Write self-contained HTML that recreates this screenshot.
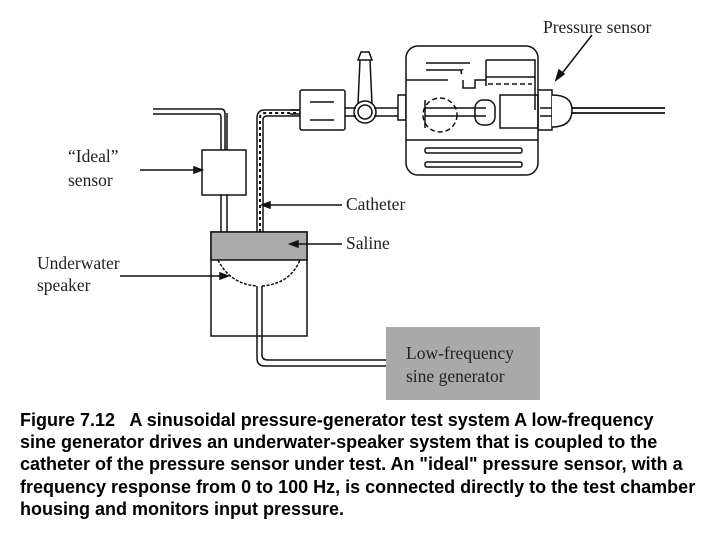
<!DOCTYPE html>
<html><head><style>
body{margin:0;width:720px;height:540px;background:#fff;position:relative;overflow:hidden}
.cap{position:absolute;left:20px;top:409px;width:700px;font:bold 18px/22.2px "Liberation Sans",sans-serif;color:#000;white-space:nowrap}
svg text{font-family:"Liberation Serif",serif;font-size:17.5px;fill:#222;stroke:none}
</style></head><body>
<svg width="720" height="405" style="position:absolute;left:0;top:0" stroke="#111" fill="none" stroke-width="1.5">
<path d="M153 109 H221 Q225 109 225 114 V150 M153 114 H219 Q221 114 221 118 V150"/>
<path d="M221 195 V232 M227 195 V232"/>
<path d="M227 113 V150"/>
<rect x="202" y="150" width="44" height="45" fill="#fff"/>
<path d="M257 232 V118 Q257 110 265 110 H300 M263 232 V120 Q263 116 267 116 H300"/>
<path d="M260 232 V118 Q260 113 266 113 H300" stroke-dasharray="3 3" stroke-width="2"/>
<rect x="211" y="232" width="96" height="104" fill="#fff"/>
<rect x="211" y="232" width="96" height="28" fill="#aaa"/>
<path d="M218 260 Q230 284 257 286 M262 286 Q290 284 300 260" stroke-dasharray="3 1.5"/>
<path d="M257 286 V358 Q257 366 265 366 H386 M262 286 V355 Q262 360 268 360 H386"/>
<rect x="386" y="327" width="154" height="73" fill="#a9a9a9" stroke="none"/>
<path d="M140 170 H198 M120 276 H224 M266 205 H342 M296 244 H342"/>
<path d="M202 170 l-8 -3 v6z M228 276 l-8 -3 v6z M262 205 l8 -3 v6z M290 244 l8 -3 v6z" fill="#111"/>
<path d="M290 110 H300 M290 114 H300"/>
<rect x="300" y="90" width="45" height="40" rx="2" fill="#fff"/>
<path d="M310 102 H334 M310 120 H334"/>
<path d="M345 108 H356 M345 116 H356 M374 108 H398 M374 116 H398"/>
<circle cx="365" cy="112" r="11"/><circle cx="365" cy="112" r="7"/>
<path d="M358 104 L360 60 M372 104 L370 60 M358 60 H372 L369 52 H361Z"/>
<rect x="398" y="95" width="8" height="25"/>
<rect x="406" y="46" width="132" height="129" rx="12" fill="#fff"/>
<path d="M406 140 H538"/>
<rect x="425" y="148" width="97" height="5" rx="2"/><rect x="425" y="162" width="97" height="5" rx="2"/>
<path d="M426 63 H470 M426 70 H462 Q460 72 462 74 M406 80 H448 M463 80 V88 H475 V80 H486 M486 60 V86 M486 60 H535 V110 M486 77 H535"/>
<path d="M488 84 H532" stroke-dasharray="5 3"/>
<circle cx="440" cy="115" r="17" stroke-dasharray="5 3"/>
<path d="M425 100 V128 M425 108 H486 M425 116 H486"/>
<rect x="475" y="100" width="20" height="25" rx="8"/>
<rect x="500" y="95" width="38" height="33"/>
<path d="M538 90 H552 V130 H538 M540 108 H555 M540 116 H555"/>
<path d="M552 95 Q572 95 572 110 Q572 127 552 127" fill="#fff"/>
<path d="M572 108 H665 M572 113 H665" stroke-width="1.8"/>
<path d="M592 35 L560 76"/><path d="M556 80 l3 -10 5 4z" fill="#111"/>
<text x="543" y="33" font-size="17">Pressure sensor</text>
<text x="68" y="162">“Ideal”</text>
<text x="68" y="186">sensor</text>
<text x="346" y="210">Catheter</text>
<text x="346" y="249">Saline</text>
<text x="37" y="269">Underwater</text>
<text x="37" y="291">speaker</text>
<text x="406" y="359">Low-frequency</text>
<text x="406" y="382">sine generator</text>
</svg>
<div class="cap">Figure 7.12 &nbsp; A sinusoidal pressure-generator test system A low-frequency<br>sine generator drives an underwater-speaker system that is coupled to the<br>catheter of the pressure sensor under test. An "ideal" pressure sensor, with a<br>frequency response from 0 to 100 Hz, is connected directly to the test chamber<br>housing and monitors input pressure.</div>
</body></html>
